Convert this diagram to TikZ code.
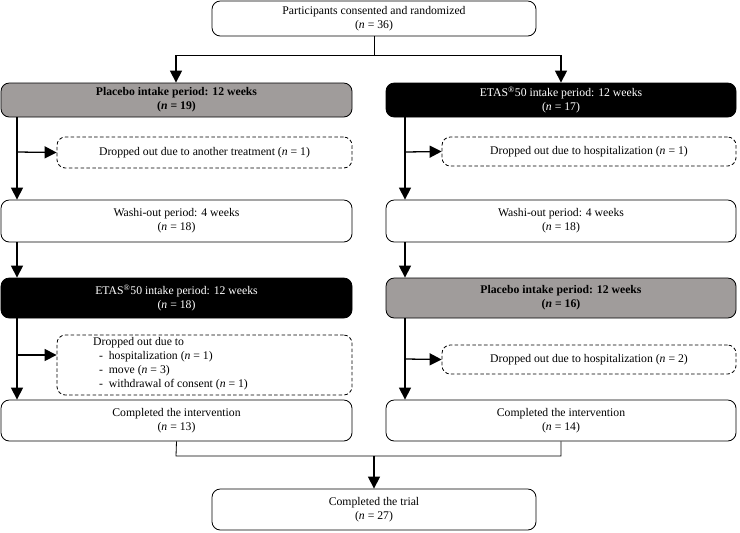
\documentclass[tikz,border=0pt]{standalone}
\usepackage{fontspec}
\setmainfont{Liberation Serif}
\usetikzlibrary{arrows.meta}
\begin{document}
\begin{tikzpicture}[x=0.3mm,y=-0.3mm,
  box/.style={draw,rounded corners=2.5mm,line width=0.7pt,font=\fontsize{10}{12}\selectfont,align=center,inner sep=0pt},
  drop/.style={box,dashed,dash pattern=on 3pt off 2pt},
  arr/.style={line width=1.1pt,-{Triangle[length=3.6mm,width=3.6mm]}},
  ln/.style={line width=0.7pt}]
\useasboundingbox (0,0) rectangle (740,532);
\newcommand{\bx}[6]{\node[#1,minimum width={(#4-#2)*0.3mm},minimum height={(#5-#3)*0.3mm}] (#6) at ({(#2+#4)/2},{(#3+#5)/2})}
\bx{box}{212}{1}{536}{36}{top}{Participants consented and randomized\\(\textit{n} = 36)};
\bx{box,fill={rgb,255:red,160;green,156;blue,155}}{1}{83}{352}{117}{L1}{\textbf{Placebo intake period: 12 weeks}\\\textbf{(\textit{n} = 19)}};
\bx{box,fill=black,text=white}{386}{83}{736}{117}{R1}{ETAS\textsuperscript{\textregistered}50 intake period: 12 weeks\\(\textit{n} = 17)};
\bx{drop}{57}{137}{352}{168}{L2}{Dropped out due to another treatment (\textit{n} = 1)};
\bx{drop}{442}{137}{736}{166}{R2}{Dropped out due to hospitalization (\textit{n} = 1)};
\bx{box}{1}{200}{352}{242}{L3}{Washi-out period: 4 weeks\\(\textit{n} = 18)};
\bx{box}{386}{200}{736}{242}{R3}{Washi-out period: 4 weeks\\(\textit{n} = 18)};
\bx{box,fill=black,text=white}{1}{278}{352}{318}{L4}{ETAS\textsuperscript{\textregistered}50 intake period: 12 weeks\\(\textit{n} = 18)};
\bx{box,fill={rgb,255:red,160;green,156;blue,155}}{386}{278}{736}{318}{R4}{\textbf{Placebo intake period: 12 weeks}\\\textbf{(\textit{n} = 16)}};
\node[drop,minimum width={295*0.3mm},minimum height={60*0.3mm}] (L5) at (204.5,365) {};
\node[font=\fontsize{10}{12}\selectfont,align=left,anchor=north west,inner sep=0pt] (L5t) at (93,337) {Dropped out due to\\\ \ -\ \ hospitalization (\textit{n} = 1)\\\ \ -\ \ move (\textit{n} = 3)\\\ \ -\ \ withdrawal of consent (\textit{n} = 1)};
\bx{drop}{442}{345}{736}{374}{R5}{Dropped out due to hospitalization (\textit{n} = 2)};
\bx{box}{1}{400}{352}{441}{L6}{Completed the intervention\\(\textit{n} = 13)};
\bx{box}{386}{400}{736}{441}{R6}{Completed the intervention\\(\textit{n} = 14)};
\bx{box}{212}{489}{536}{530}{fin}{Completed the trial\\(\textit{n} = 27)};
% top split
\coordinate (s) at (374,55);
\draw[ln] (top.south) -- (s);
\draw[arr] (176,55) -- (L1.north -| 176,0);
\draw[arr] (561,55) -- (R1.north -| 561,0);
\draw[ln] (176,55) -- (561,55);
% left column
\draw[arr] (L1.south -| 17,0) -- (L3.north -| 17,0);
\draw[arr] (17,152) -- (L2.west);
\draw[arr] (L3.south -| 17,0) -- (L4.north -| 17,0);
\draw[arr] (L4.south -| 17,0) -- (L6.north -| 17,0);
\draw[arr] (17,355) -- (L5.west |- 0,355);
% right column
\draw[arr] (R1.south -| 405,0) -- (R3.north -| 405,0);
\draw[arr] (405,152) -- (R2.west);
\draw[arr] (R3.south -| 405,0) -- (R4.north -| 405,0);
\draw[arr] (R4.south -| 405,0) -- (R6.north -| 405,0);
\draw[arr] (405,359) -- (R5.west);
% bottom merge
\draw[ln] (L6.south) -- (176,456) -- (561,456) -- (R6.south);
\draw[arr] (374,456) -- (fin.north);
\end{tikzpicture}
\end{document}
